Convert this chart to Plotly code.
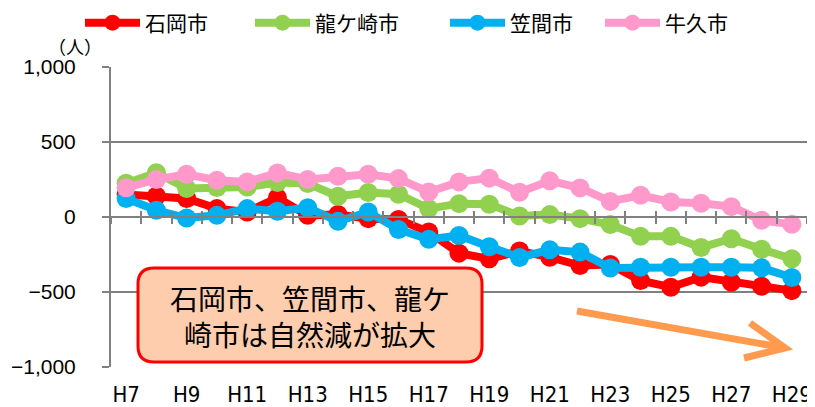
import plotly.graph_objects as go

# ---- data ----
years = ["H7", "H8", "H9", "H10", "H11", "H12", "H13", "H14", "H15", "H16", "H17", "H18",
         "H19", "H20", "H21", "H22", "H23", "H24", "H25", "H26", "H27", "H28", "H29"]
tick_labels = years[::2]

ishioka = [150, 140, 123, 56, 33, 129, 11, 17, -11, -16, -100, -241, -279, -227, -268,
           -324, -317, -424, -468, -401, -435, -462, -491]
ryugasaki = [225, 295, 190, 196, 200, 230, 223, 138, 163, 152, 56, 89, 85, 7, 16,
             -11, -50, -129, -129, -203, -145, -215, -279]
kasama = [123, 45, -7, 11, 56, 38, 62, -29, 33, -83, -149, -123, -198, -270, -219,
          -234, -340, -335, -335, -335, -335, -339, -403]
ushiku = [195, 250, 285, 245, 234, 294, 250, 272, 285, 256, 167, 234, 259, 165, 241,
          194, 104, 145, 100, 92, 69, -22, -49]

series_names = ["石岡市", "龍ケ崎市", "笠間市", "牛久市"]
series_values = [ishioka, ryugasaki, kasama, ushiku]
series_colors = ["#FF0000", "#92D050", "#00B0F0", "#FF99CC"]

y_ticks = [-1000, -500, 0, 500, 1000]
note_text = "石岡市、笠間市、龍ケ<br>崎市は自然減が拡大"
unit_text = "（人）"

CJK = "Noto Sans CJK JP"
GRAY = "#808080"

# page body has an 8px margin; size the figure to fit the window
OFF = 8
W, H = 815 - OFF, 407 - OFF
L, R, T, B = 111 - OFF, 8, 67 - OFF, 40
pw, ph = W - L - R, H - T - B


def px(x):  # x in window pixels -> paper
    return (x - OFF - L) / pw


def py(y):  # y in window pixels -> paper
    return (H - B - (y - OFF)) / ph


legend_ids = ["legend", "legend2", "legend3", "legend4"]
legend_x_px = [80, 250, 445, 600]

fig = go.Figure()
for name, vals, col, lid in zip(series_names, series_values, series_colors, legend_ids):
    fig.add_trace(go.Scatter(
        x=years, y=vals, name=name, mode="lines+markers",
        line=dict(color=col, width=8),
        marker=dict(color=col, size=19),
        hoverinfo="skip", legend=lid,
    ))

idx = list(range(len(years)))
# invisible helper traces so the zero-line axes (ticks crossing) render
for ax in ["x2", "x3"]:
    fig.add_trace(go.Scatter(x=idx, y=ishioka, xaxis=ax, mode="lines",
                             line=dict(width=0, color="rgba(0,0,0,0)"),
                             showlegend=False, hoverinfo="skip"))


def rrect(x0, y0, x1, y1, r):
    rx, ry = r / pw, r / ph
    X0, X1, Y0, Y1 = px(x0), px(x1), py(y0), py(y1)
    return (f"M{X0+rx},{Y0} L{X1-rx},{Y0} Q{X1},{Y0} {X1},{Y0-ry} "
            f"L{X1},{Y1+ry} Q{X1},{Y1} {X1-rx},{Y1} L{X0+rx},{Y1} "
            f"Q{X0},{Y1} {X0},{Y1+ry} L{X0},{Y0-ry} Q{X0},{Y0} {X0+rx},{Y0} Z")


shapes = [
    dict(type="path", xref="paper", yref="paper", path=rrect(138, 268, 482, 362, 16),
         fillcolor="#FDCDAE", line=dict(color="#FF0000", width=3), layer="above"),
    dict(type="path", xref="paper", yref="paper",
         path=(f"M{px(577)},{py(311)} L{px(785)},{py(348)} "
               f"M{px(750)},{py(323)} L{px(785)},{py(348)} L{px(744)},{py(358)}"),
         line=dict(color="#FF9A4F", width=7), layer="above"),
]

annotations = [
    dict(xref="paper", yref="paper", x=px(310), y=py(316), text=note_text,
         showarrow=False, font=dict(family=CJK, size=28, color="black"),
         xanchor="center", yanchor="middle"),
    dict(xref="paper", yref="paper", x=px(75), y=py(46), text=unit_text,
         showarrow=False, font=dict(family=CJK, size=18, color="black"),
         xanchor="center", yanchor="middle"),
]

layout_legends = {}
for lid, lx in zip(legend_ids, legend_x_px):
    layout_legends[lid] = dict(
        orientation="h", x=px(lx), y=py(23), xanchor="left", yanchor="middle",
        font=dict(family=CJK, size=21, color="black"),
        itemwidth=55, bgcolor="rgba(0,0,0,0)")

fig.update_layout(
    width=W, height=H,
    margin=dict(l=L, r=R, t=T, b=B, autoexpand=False),
    paper_bgcolor="white", plot_bgcolor="white",
    showlegend=True,
    xaxis=dict(type="category", range=[-0.5, len(years) - 0.5],
               tickvals=tick_labels, ticktext=tick_labels,
               showgrid=False, showline=False, zeroline=False, ticks="",
               ticklabelstandoff=12,
               tickfont=dict(family="Liberation Sans Narrow, DejaVu Sans Condensed, Arial Narrow",
                             size=22, color="black")),
    xaxis2=dict(overlaying="x", anchor="free", position=0.5, range=[-0.5, len(years) - 0.5],
                tick0=-0.5, dtick=1, ticks="outside", ticklen=6, tickwidth=2, tickcolor=GRAY,
                showline=True, linecolor=GRAY, linewidth=2, showticklabels=False,
                showgrid=False, zeroline=False),
    xaxis3=dict(overlaying="x", anchor="free", position=0.5, range=[-0.5, len(years) - 0.5],
                tick0=-0.5, dtick=1, ticks="inside", ticklen=6, tickwidth=2, tickcolor=GRAY,
                showline=False, showticklabels=False, showgrid=False, zeroline=False),
    yaxis=dict(range=[-1000, 1000], tickvals=y_ticks, tickformat=",",
               showgrid=True, gridcolor=GRAY, gridwidth=2,
               showline=True, linecolor=GRAY, linewidth=2,
               ticks="outside", ticklen=7, tickwidth=2, tickcolor=GRAY,
               zeroline=False, ticklabelstandoff=22,
               tickfont=dict(family="Liberation Sans, Arial", size=21, color="black")),
    shapes=shapes,
    annotations=annotations,
    **layout_legends,
)

fig.write_html("out.html")
